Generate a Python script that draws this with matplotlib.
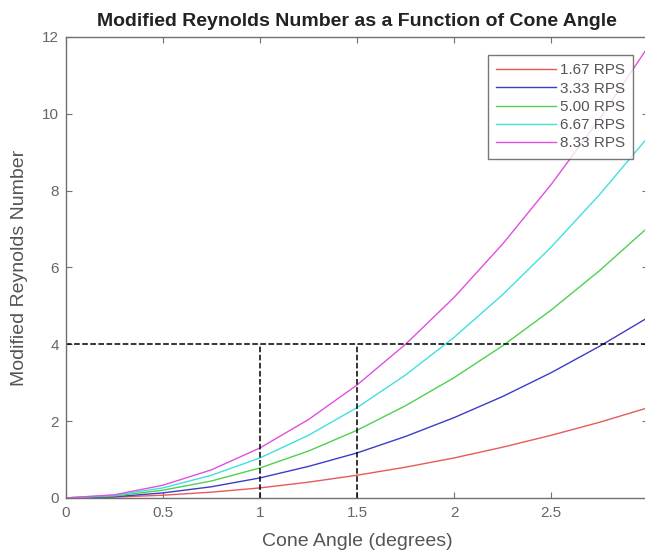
import matplotlib.pyplot as plt

plt.rcParams['font.family'] = ['Liberation Sans', 'DejaVu Sans']

# cone angle in degrees
angle = [0, 0.25, 0.5, 0.75, 1.0, 1.25, 1.5, 1.75, 2.0, 2.25, 2.5, 2.75, 3.0]

re_167 = [0, 0.02, 0.07, 0.15, 0.26, 0.41, 0.59, 0.80, 1.04, 1.32, 1.63, 1.97, 2.35]
re_333 = [0, 0.03, 0.13, 0.29, 0.52, 0.82, 1.17, 1.60, 2.09, 2.64, 3.26, 3.95, 4.70]
re_500 = [0, 0.05, 0.20, 0.44, 0.78, 1.22, 1.76, 2.40, 3.13, 3.96, 4.89, 5.92, 7.05]
re_667 = [0, 0.07, 0.26, 0.59, 1.04, 1.63, 2.35, 3.20, 4.18, 5.29, 6.53, 7.90, 9.40]
re_833 = [0, 0.08, 0.33, 0.73, 1.30, 2.04, 2.94, 4.00, 5.22, 6.61, 8.16, 9.87, 11.75]

labels = ['1.67 RPS', '3.33 RPS', '5.00 RPS', '6.67 RPS', '8.33 RPS']
colors = ['#e85a5a', '#3c3cc8', '#50d050', '#40e0e0', '#e050e0']

re_limit = 4
angle_marks = [1, 1.5]

fig = plt.figure(figsize=(6.45, 5.52), dpi=100)
ax = fig.add_axes([0.102, 0.098, 0.903, 0.835])

for y, lab, c in zip([re_167, re_333, re_500, re_667, re_833], labels, colors):
    ax.plot(angle, y, color=c, lw=1.0, label=lab)

ax.plot([0, 3], [re_limit, re_limit], 'k--', lw=1.1)
for a in angle_marks:
    ax.plot([a, a], [0, re_limit], 'k--', lw=1.1)

ax.set_xlim(0, 3)
ax.set_ylim(0, 12)
ax.set_xticks([0, 0.5, 1, 1.5, 2, 2.5, 3])
ax.set_xticklabels(['0', '0.5', '1', '1.5', '2', '2.5', '3'])
ax.set_yticks(range(0, 13, 2))

for s in ax.spines.values():
    s.set_color('#707070')
    s.set_linewidth(1.0)
ax.tick_params(direction='in', top=True, right=True, length=4, width=0.8,
               color='#707070', labelcolor='#666666', labelsize=11)
ax.tick_params(axis='x', pad=6)
ax.tick_params(axis='y', pad=5)

ax.set_title('Modified Reynolds Number as a Function of Cone Angle',
             fontsize=14, fontweight='bold', color='#222222', pad=8)
ax.set_xlabel('Cone Angle (degrees)', fontsize=14, color='#555555', labelpad=9)
ax.set_ylabel('Modified Reynolds Number', fontsize=14, color='#555555', labelpad=10)

leg = ax.legend(loc='upper right', bbox_to_anchor=(0.974, 0.961), fontsize=11,
                frameon=True, fancybox=False, handlelength=3.9, handletextpad=0.25,
                labelspacing=0.28, borderpad=0.55, borderaxespad=0,
                labelcolor='#555555')
leg.get_frame().set_edgecolor('#555555')
leg.get_frame().set_linewidth(1.0)

fig.savefig('out.png', dpi=100)
